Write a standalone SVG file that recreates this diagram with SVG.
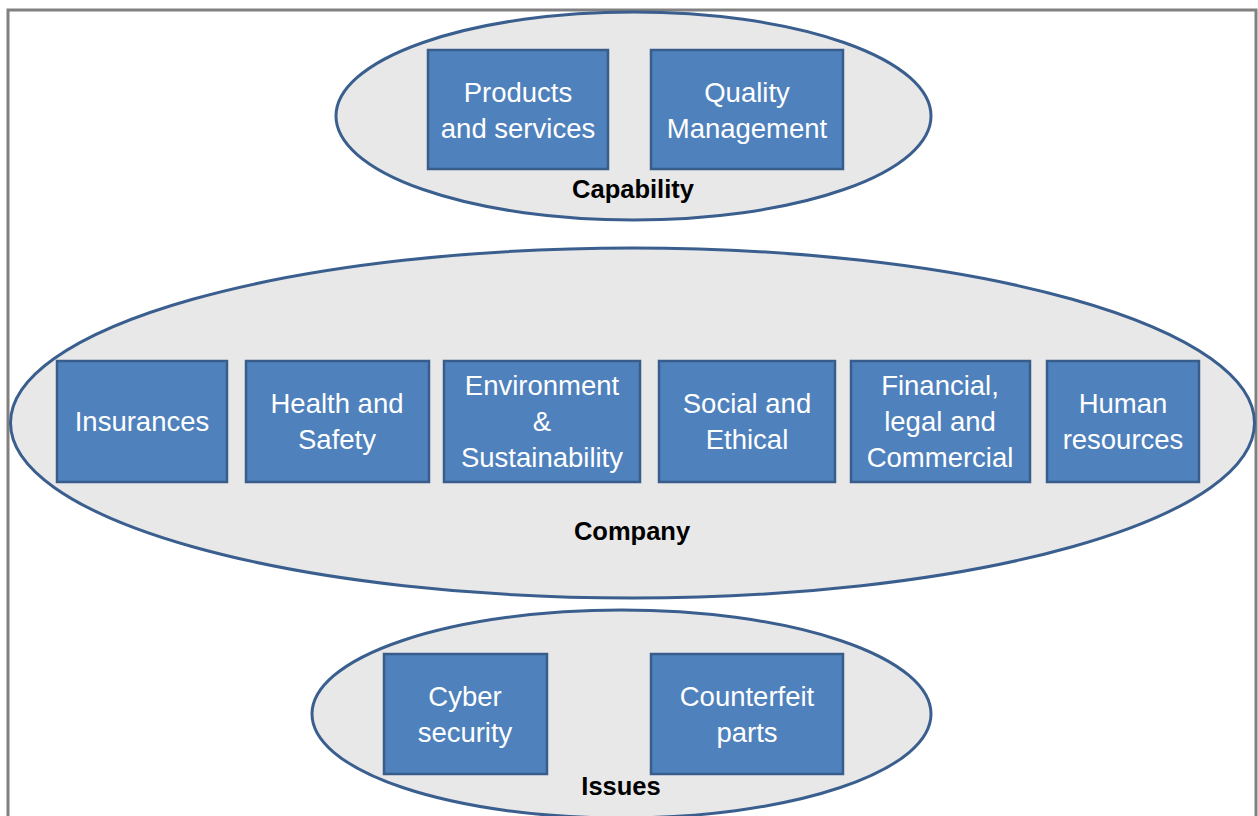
<svg xmlns="http://www.w3.org/2000/svg" width="1258" height="816" viewBox="0 0 1258 816">
<style>
.frame{fill:#ffffff;stroke:#808080;stroke-width:3}
.ell{fill:#e8e8e8;stroke:#3a5f8f;stroke-width:3}
.box{fill:#4f81bd;stroke:#385d8a;stroke-width:2.5}
.t{font-family:"Liberation Sans",Arial,sans-serif;font-size:27.5px;fill:#ffffff;text-anchor:middle}
.lbl{font-family:"Liberation Sans",Arial,sans-serif;font-size:25.5px;font-weight:bold;fill:#000000;text-anchor:middle}
</style>
<rect class="frame" x="8" y="10" width="1248" height="820"/>
<g id="capability">
<ellipse class="ell" cx="633.5" cy="116" rx="297.5" ry="104"/>
<text class="lbl" x="633" y="198">Capability</text>
</g>
<g id="company">
<ellipse class="ell" cx="632.5" cy="423" rx="622" ry="175"/>
<text class="lbl" x="632" y="540">Company</text>
</g>
<g id="issues">
<ellipse class="ell" cx="621.5" cy="714" rx="309.5" ry="104"/>
<text class="lbl" x="621" y="795">Issues</text>
</g>
<g id="products">
<rect class="box" x="428" y="50" width="180" height="119"/>
<text class="t" x="518" y="102">Products</text>
<text class="t" x="518" y="138">and services</text>
</g>
<g id="quality">
<rect class="box" x="651" y="50" width="192" height="119"/>
<text class="t" x="747" y="102">Quality</text>
<text class="t" x="747" y="138">Management</text>
</g>
<g id="insurances">
<rect class="box" x="57" y="361" width="170" height="121"/>
<text class="t" x="142" y="431">Insurances</text>
</g>
<g id="health">
<rect class="box" x="246" y="361" width="183" height="121"/>
<text class="t" x="337" y="413">Health and</text>
<text class="t" x="337" y="449">Safety</text>
</g>
<g id="environment">
<rect class="box" x="444" y="361" width="196" height="121"/>
<text class="t" x="542" y="395">Environment</text>
<text class="t" x="542" y="431">&amp;</text>
<text class="t" x="542" y="467">Sustainability</text>
</g>
<g id="social">
<rect class="box" x="659" y="361" width="176" height="121"/>
<text class="t" x="747" y="413">Social and</text>
<text class="t" x="747" y="449">Ethical</text>
</g>
<g id="financial">
<rect class="box" x="851" y="361" width="179" height="121"/>
<text class="t" x="940" y="395">Financial,</text>
<text class="t" x="940" y="431">legal and</text>
<text class="t" x="940" y="467">Commercial</text>
</g>
<g id="human">
<rect class="box" x="1047" y="361" width="152" height="121"/>
<text class="t" x="1123" y="413">Human</text>
<text class="t" x="1123" y="449">resources</text>
</g>
<g id="cyber">
<rect class="box" x="384" y="654" width="163" height="120"/>
<text class="t" x="465" y="706">Cyber</text>
<text class="t" x="465" y="742">security</text>
</g>
<g id="counterfeit">
<rect class="box" x="651" y="654" width="192" height="120"/>
<text class="t" x="747" y="706">Counterfeit</text>
<text class="t" x="747" y="742">parts</text>
</g>
<g id="connectors"></g>
</svg>
